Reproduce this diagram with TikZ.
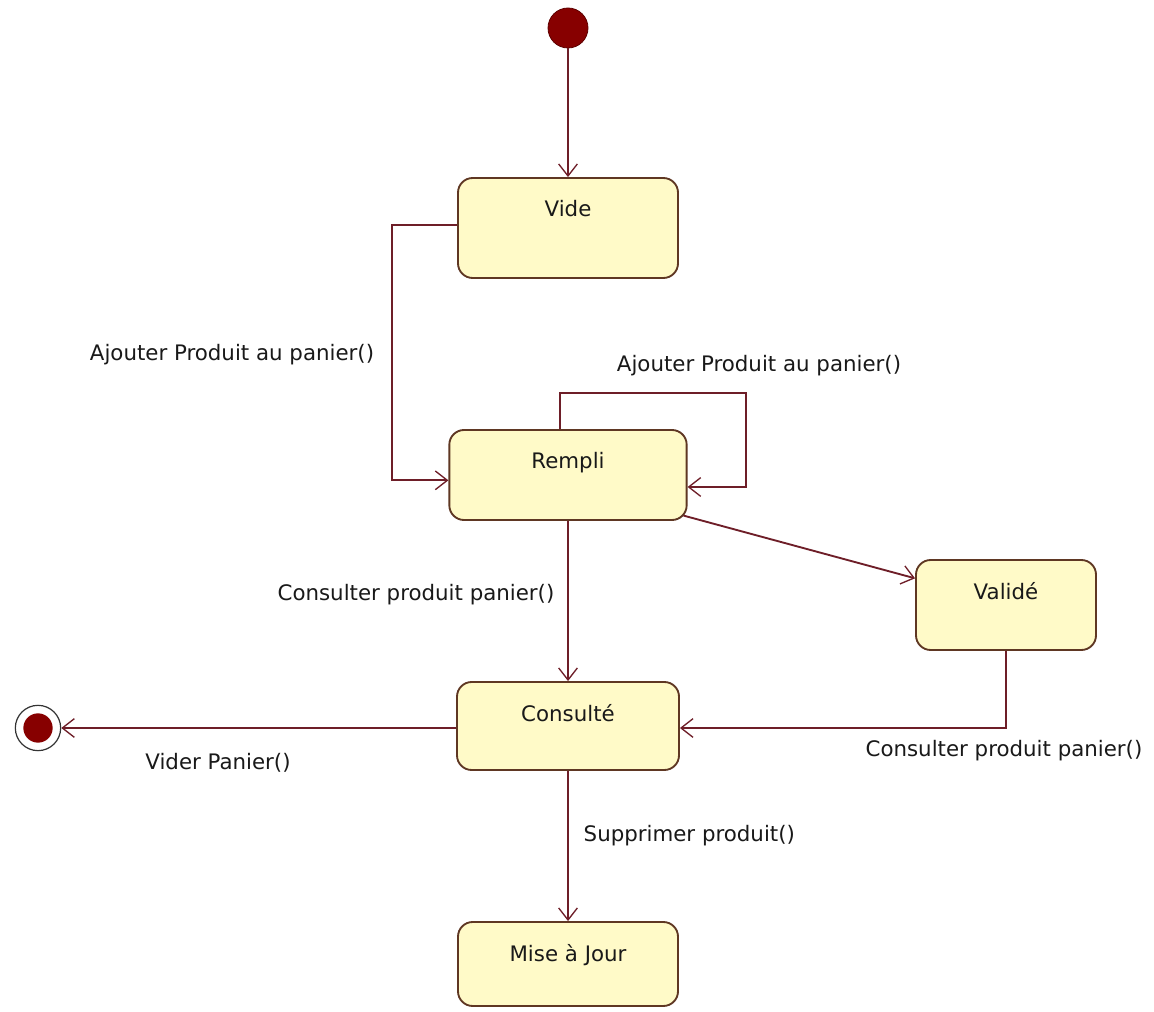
\documentclass[tikz,border=0pt]{standalone}
\usepackage{fontspec}
\setmainfont{DejaVu Sans}
\usetikzlibrary{arrows.meta}
\definecolor{linecol}{RGB}{110,30,40}
\definecolor{boxline}{RGB}{95,55,35}
\definecolor{boxfill}{RGB}{255,250,200}
\definecolor{dotred}{RGB}{135,0,0}
\tikzset{
  statebox/.style={draw=boxline, fill=boxfill, line width=1.4pt, rounded corners=11pt, inner sep=0pt},
  tr/.style={draw=linecol, line width=1.4pt, -{Straight Barb[length=9pt,width=14pt,line width=1pt]}},
  lbl/.style={font=\fontsize{16}{19}\selectfont, text=black!90},
  sname/.style={font=\fontsize{16}{19}\selectfont, text=black!90, anchor=north}
}
\begin{document}
\begin{tikzpicture}[x=0.75pt,y=-0.75pt]
\useasboundingbox (0,0) rectangle (1154,1012);
\fill[white] (0,0) rectangle (1154,1012);

% states
\node[statebox, minimum width=165pt, minimum height=75pt] (vide) at (568,228) {};
\node[sname] at ([yshift=-14pt]vide.north) {Vide};
\node[statebox, minimum width=178pt, minimum height=67.5pt] (rempli) at (568,475) {};
\node[sname] at ([yshift=-14pt]rempli.north) {Rempli};
\node[statebox, minimum width=135pt, minimum height=67.5pt] (valide) at (1006,605) {};
\node[sname] at ([yshift=-14pt]valide.north) {Validé};
\node[statebox, minimum width=166.5pt, minimum height=66pt] (consulte) at (568,726) {};
\node[sname] at ([yshift=-14pt]consulte.north) {Consulté};
\node[statebox, minimum width=165pt, minimum height=63pt] (maj) at (568,964) {};
\node[sname] at ([yshift=-14pt]maj.north) {Mise à Jour};

% initial and final pseudo-states
\node[circle, fill=dotred, draw=dotred!70!black, line width=0.6pt, minimum size=30pt, inner sep=0pt] (init) at (568,28) {};
\node[circle, draw=black!80, fill=white, line width=0.9pt, minimum size=34pt, inner sep=0pt] (final) at (38,728) {};
\node[circle, fill=dotred, minimum size=22pt, inner sep=0pt] (finalin) at (38,728) {};

% transitions
\draw[tr] (init) -- (vide);
\draw[tr] ([yshift=2pt]vide.west) -- ++(-65,0) |- ([yshift=-4pt]rempli.west);
\coordinate (loopA) at (560,393);
\coordinate (loopB) at (746,393);
\draw[tr] (rempli.north -| loopA) -- (loopA) -- (loopB) |- ([yshift=-9pt]rempli.east);
\draw[tr] (rempli.south) -- (consulte.north);
\draw[tr] ([xshift=-3pt,yshift=4pt]rempli.south east) -- ([yshift=20pt]valide.west);
\draw[tr] (valide.south) |- ([yshift=-1.5pt]consulte.east);
\draw[tr] ([yshift=-1.5pt]consulte.west) -- (final);
\draw[tr] (consulte.south) -- (maj.north);

% transition labels
\node[lbl] at (232,355) {Ajouter Produit au panier()};
\node[lbl] at (759,366) {Ajouter Produit au panier()};
\node[lbl] at (416,595) {Consulter produit panier()};
\node[lbl] at (1004,751) {Consulter produit panier()};
\node[lbl] at (218,763) {Vider Panier()};
\node[lbl, anchor=west] at (579,836) {Supprimer produit()};
\end{tikzpicture}
\end{document}
